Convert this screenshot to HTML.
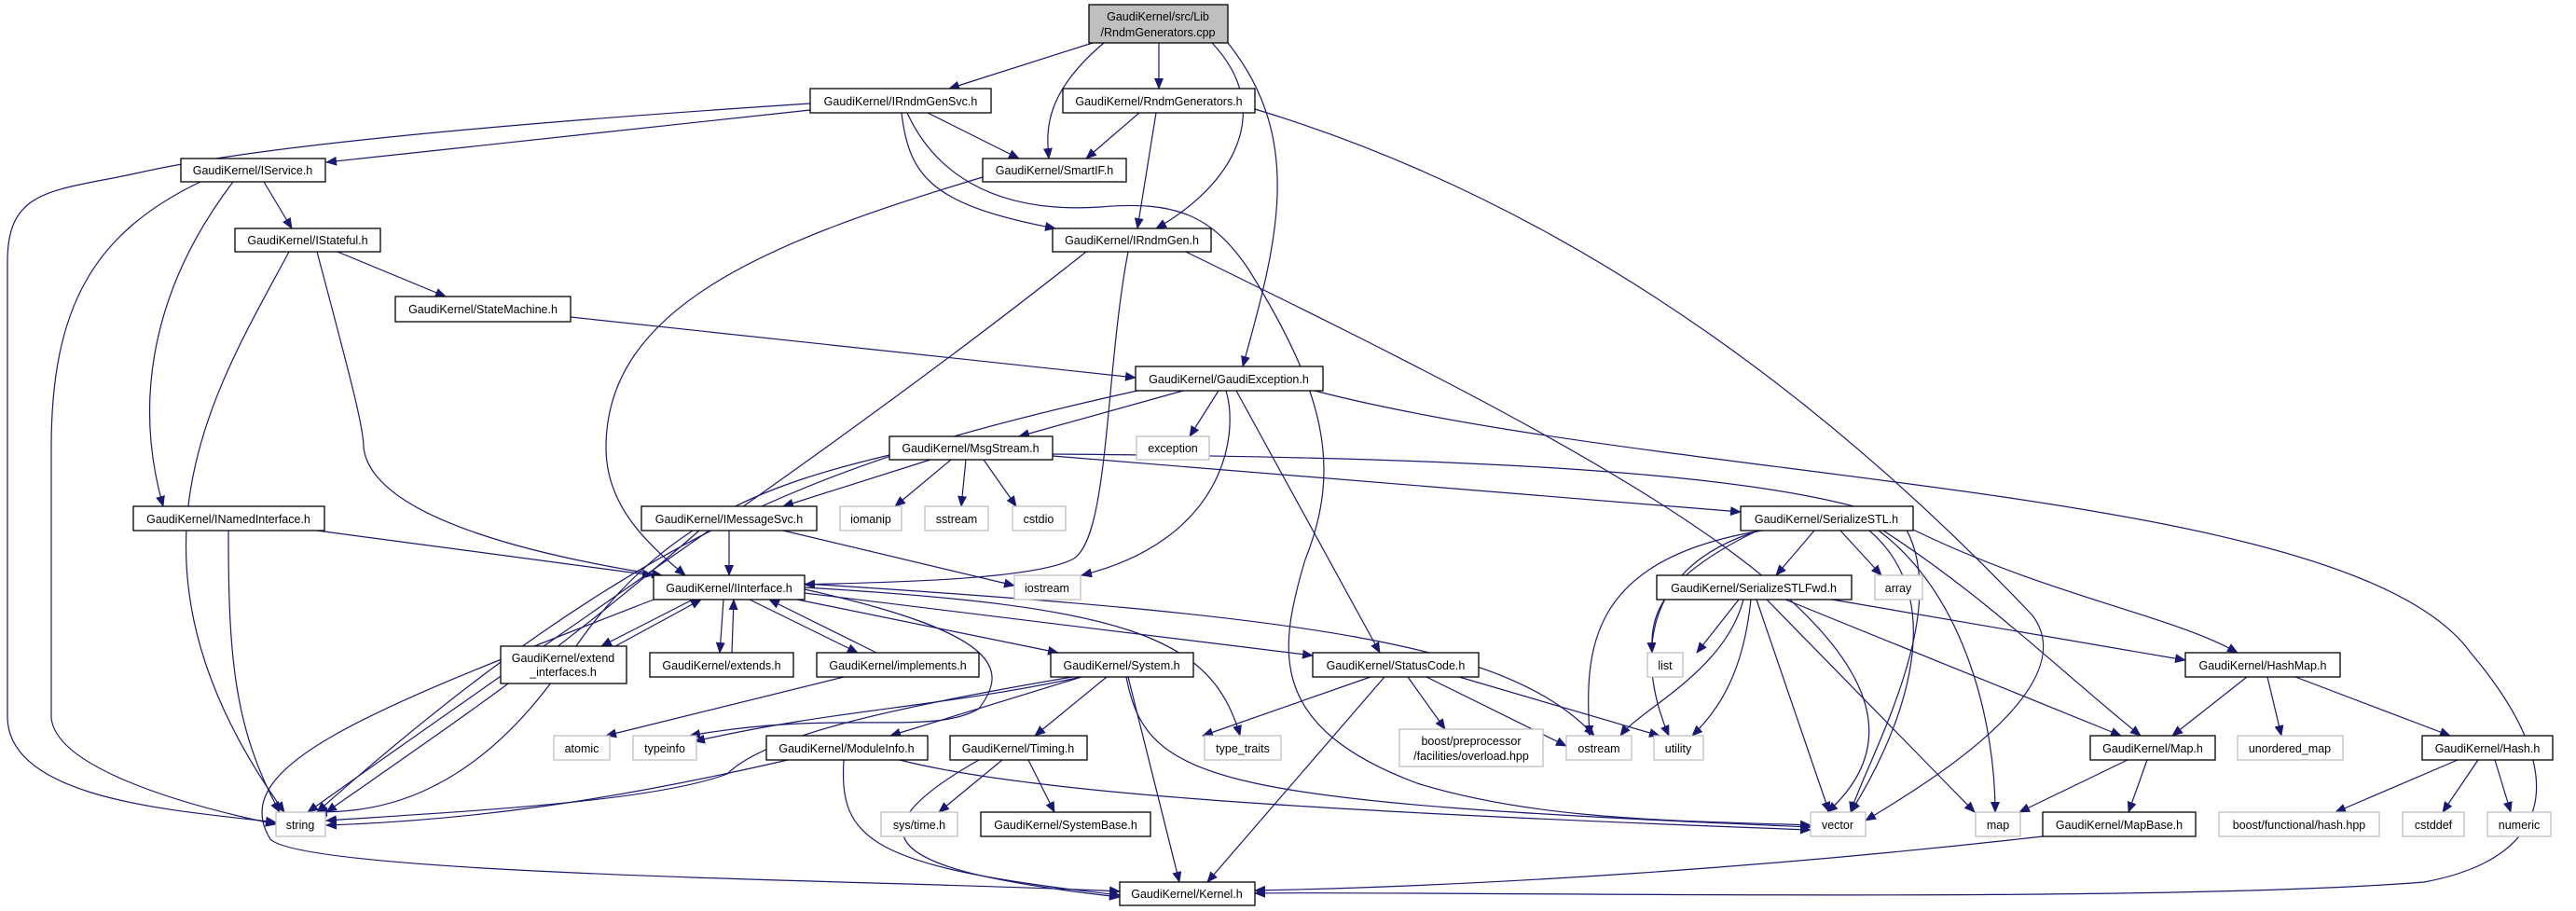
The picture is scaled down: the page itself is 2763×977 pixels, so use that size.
<!DOCTYPE html>
<html><head><meta charset="utf-8"><style>
html,body{margin:0;padding:0;background:#fff;}
svg{display:block}
text{font-family:"Liberation Sans",sans-serif;font-size:12.5px;fill:#000;text-anchor:middle}
.n{fill:#fff;stroke:#000;stroke-width:1.3}
.g{fill:#fff;stroke:#bfbfbf;stroke-width:1.3}
.r{fill:#bfbfbf;stroke:#000;stroke-width:1.3}
path.e{fill:none;stroke:#191970;stroke-width:1.2;marker-end:url(#a)}
</style></head><body>
<svg width="2763" height="977" viewBox="0 0 2763 977" xmlns="http://www.w3.org/2000/svg">
<defs><marker id="a" markerUnits="userSpaceOnUse" markerWidth="12" markerHeight="10" refX="11" refY="5" orient="auto"><path d="M0,0 L12,5 L0,10 z" fill="#191970"/></marker></defs>
<g>
<path class="e" d="M1172,46 L1018,95"/>
<path class="e" d="M1243,46 L1243,95"/>
<path class="e" d="M1184,46 C1120,100 1122,140 1125,170"/>
<path class="e" d="M1300,46 C1370,120 1320,200 1240,245"/>
<path class="e" d="M1317,46 C1400,150 1370,260 1333,393"/>
<path class="e" d="M869,111 C500,135 260,160 150,185 C60,205 8,200 8,280 L8,770 C10,860 200,870 296,882"/>
<path class="e" d="M869,118 L350,174"/>
<path class="e" d="M995,121 L1093,170"/>
<path class="e" d="M967,121 C975,190 1000,220 1132,245"/>
<path class="e" d="M973,121 C1000,180 1060,230 1180,222 C1260,215 1300,230 1340,290 C1420,420 1440,500 1400,600 C1370,700 1360,780 1520,840 C1650,880 1800,880 1942,885"/>
<path class="e" d="M1222,121 L1165,170"/>
<path class="e" d="M1240,121 L1220,245"/>
<path class="e" d="M1346,117 C1720,230 2000,470 2180,660 C2240,740 2050,850 2001,880"/>
<path class="e" d="M215,195 C100,250 55,330 55,480 L55,770 C60,820 180,860 296,884"/>
<path class="e" d="M250,195 C170,300 140,420 175,543"/>
<path class="e" d="M283,195 L313,245"/>
<path class="e" d="M310,270 C230,420 110,600 305,871"/>
<path class="e" d="M340,270 C380,420 390,460 390,480 C400,560 600,600 710,617"/>
<path class="e" d="M362,270 L478,318"/>
<path class="e" d="M612,340 L1218,405"/>
<path class="e" d="M1054,190 C820,260 650,330 650,480 C650,540 690,580 735,617"/>
<path class="e" d="M1165,270 C900,480 640,650 330,871"/>
<path class="e" d="M1210,270 C1185,400 1190,580 1150,600 C1100,625 900,625 863,627"/>
<path class="e" d="M1272,270 C1700,480 2150,700 1960,871"/>
<path class="e" d="M1220,419 C900,490 690,560 340,871"/>
<path class="e" d="M1269,419 L1093,468"/>
<path class="e" d="M1307,419 L1276,468"/>
<path class="e" d="M1315,419 C1330,470 1310,580 1160,617"/>
<path class="e" d="M1326,419 L1480,700"/>
<path class="e" d="M1410,419 C1800,520 2520,520 2650,700 C2760,830 2740,920 2600,946 C2300,970 1500,955 1346,958"/>
<path class="e" d="M954,488 C820,520 700,560 600,720 C500,860 400,871 340,871"/>
<path class="e" d="M998,493 L840,543"/>
<path class="e" d="M1020,493 L960,543"/>
<path class="e" d="M1036,493 L1031,543"/>
<path class="e" d="M1055,493 L1090,543"/>
<path class="e" d="M1129,489 L1867,549"/>
<path class="e" d="M1129,487 C1500,490 1900,500 2040,560 C2100,650 2000,820 1985,871"/>
<path class="e" d="M750,569 C600,700 480,780 350,871"/>
<path class="e" d="M782,569 L782,617"/>
<path class="e" d="M840,569 L1088,628"/>
<path class="e" d="M245,569 C245,700 250,780 300,871"/>
<path class="e" d="M340,569 L700,617"/>
<path class="e" d="M701,643 C400,760 240,820 290,900 C330,940 1000,945 1201,956"/>
<path class="e" d="M743,643 L645,693"/>
<path class="e" d="M660,693 L752,643"/>
<path class="e" d="M776,643 L772,700"/>
<path class="e" d="M785,700 L787,643"/>
<path class="e" d="M804,643 L920,700"/>
<path class="e" d="M940,700 L825,643"/>
<path class="e" d="M855,643 L1135,700"/>
<path class="e" d="M863,632 C1080,680 1080,720 1050,760 C1000,790 900,760 740,789"/>
<path class="e" d="M863,636 L1408,703"/>
<path class="e" d="M863,630 C1200,650 1300,680 1330,789"/>
<path class="e" d="M863,626 C1400,660 1620,690 1710,789"/>
<path class="e" d="M905,726 L650,789"/>
<path class="e" d="M1160,726 C1000,760 900,760 745,795"/>
<path class="e" d="M1150,726 C950,760 820,790 780,830 C700,860 500,870 350,880"/>
<path class="e" d="M1160,726 L955,789"/>
<path class="e" d="M1187,726 L1110,789"/>
<path class="e" d="M1210,726 L1265,946"/>
<path class="e" d="M1208,726 C1230,840 1300,860 1942,887"/>
<path class="e" d="M845,815 C650,860 500,880 350,885"/>
<path class="e" d="M905,815 C900,900 930,930 1201,960"/>
<path class="e" d="M965,815 C1100,850 1400,870 1942,890"/>
<path class="e" d="M1050,815 C900,900 960,935 1201,962"/>
<path class="e" d="M1075,815 L1007,871"/>
<path class="e" d="M1103,815 L1131,871"/>
<path class="e" d="M1470,726 L1290,789"/>
<path class="e" d="M1510,726 L1550,782"/>
<path class="e" d="M1530,726 L1680,800"/>
<path class="e" d="M1565,726 L1780,789"/>
<path class="e" d="M1485,726 L1295,946"/>
<path class="e" d="M1946,569 L1905,617"/>
<path class="e" d="M1974,569 L2018,617"/>
<path class="e" d="M1890,569 C1700,600 1700,700 1705,789"/>
<path class="e" d="M1887,569 C1750,610 1760,720 1790,789"/>
<path class="e" d="M1885,569 C1780,620 1770,660 1772,700"/>
<path class="e" d="M2005,569 C2100,650 2030,800 1985,871"/>
<path class="e" d="M2015,569 C2110,640 2140,780 2140,871"/>
<path class="e" d="M2020,569 C2130,640 2210,720 2296,789"/>
<path class="e" d="M2052,568 C2200,640 2330,660 2400,700"/>
<path class="e" d="M1865,643 L1820,700"/>
<path class="e" d="M1870,643 C1850,720 1760,760 1738,789"/>
<path class="e" d="M1878,643 C1870,720 1845,760 1815,789"/>
<path class="e" d="M1884,643 L1962,871"/>
<path class="e" d="M1895,643 L2118,871"/>
<path class="e" d="M1915,643 L2275,789"/>
<path class="e" d="M1965,643 L2344,708"/>
<path class="e" d="M2410,726 L2330,789"/>
<path class="e" d="M2432,726 L2447,789"/>
<path class="e" d="M2462,726 L2628,789"/>
<path class="e" d="M2282,815 L2166,871"/>
<path class="e" d="M2303,815 L2283,871"/>
<path class="e" d="M2191,897 C1900,930 1600,950 1346,955"/>
<path class="e" d="M2636,815 L2505,871"/>
<path class="e" d="M2658,815 L2620,871"/>
<path class="e" d="M2676,815 L2693,871"/>
</g>
<g>
<rect class="r" x="1168" y="5" width="149" height="41"/><text x="1242" y="22">GaudiKernel/src/Lib</text><text x="1242" y="39">/RndmGenerators.cpp</text>
<rect class="n" x="869" y="95" width="194" height="26"/><text x="966" y="113">GaudiKernel/IRndmGenSvc.h</text>
<rect class="n" x="1140" y="95" width="206" height="26"/><text x="1243" y="113">GaudiKernel/RndmGenerators.h</text>
<rect class="n" x="194" y="170" width="155" height="25"/><text x="271" y="187">GaudiKernel/IService.h</text>
<rect class="n" x="1054" y="170" width="154" height="25"/><text x="1131" y="187">GaudiKernel/SmartIF.h</text>
<rect class="n" x="252" y="245" width="156" height="25"/><text x="330" y="262">GaudiKernel/IStateful.h</text>
<rect class="n" x="1129" y="245" width="170" height="25"/><text x="1214" y="262">GaudiKernel/IRndmGen.h</text>
<rect class="n" x="424" y="318" width="188" height="27"/><text x="518" y="336">GaudiKernel/StateMachine.h</text>
<rect class="n" x="1218" y="393" width="201" height="26"/><text x="1318" y="411">GaudiKernel/GaudiException.h</text>
<rect class="n" x="954" y="468" width="175" height="25"/><text x="1041" y="485">GaudiKernel/MsgStream.h</text>
<rect class="g" x="1219" y="468" width="78" height="25"/><text x="1258" y="485">exception</text>
<rect class="n" x="143" y="543" width="205" height="26"/><text x="245" y="561">GaudiKernel/INamedInterface.h</text>
<rect class="n" x="688" y="543" width="188" height="26"/><text x="782" y="561">GaudiKernel/IMessageSvc.h</text>
<rect class="g" x="901" y="543" width="66" height="26"/><text x="934" y="561">iomanip</text>
<rect class="g" x="992" y="543" width="68" height="26"/><text x="1026" y="561">sstream</text>
<rect class="g" x="1086" y="543" width="57" height="26"/><text x="1114" y="561">cstdio</text>
<rect class="n" x="1867" y="543" width="185" height="26"/><text x="1959" y="561">GaudiKernel/SerializeSTL.h</text>
<rect class="n" x="701" y="617" width="162" height="26"/><text x="782" y="635">GaudiKernel/IInterface.h</text>
<rect class="g" x="1088" y="617" width="71" height="26"/><text x="1123" y="635">iostream</text>
<rect class="n" x="1777" y="617" width="209" height="26"/><text x="1881" y="635">GaudiKernel/SerializeSTLFwd.h</text>
<rect class="g" x="2011" y="617" width="51" height="26"/><text x="2036" y="635">array</text>
<rect class="n" x="537" y="693" width="135" height="40"/><text x="604" y="710">GaudiKernel/extend</text><text x="604" y="725">_interfaces.h</text>
<rect class="n" x="697" y="700" width="154" height="26"/><text x="774" y="718">GaudiKernel/extends.h</text>
<rect class="n" x="876" y="700" width="174" height="26"/><text x="963" y="718">GaudiKernel/implements.h</text>
<rect class="n" x="1127" y="700" width="153" height="26"/><text x="1203" y="718">GaudiKernel/System.h</text>
<rect class="n" x="1408" y="700" width="178" height="26"/><text x="1497" y="718">GaudiKernel/StatusCode.h</text>
<rect class="g" x="1767" y="700" width="38" height="26"/><text x="1786" y="718">list</text>
<rect class="n" x="2344" y="700" width="166" height="26"/><text x="2427" y="718">GaudiKernel/HashMap.h</text>
<rect class="g" x="594" y="789" width="60" height="26"/><text x="624" y="807">atomic</text>
<rect class="g" x="679" y="789" width="68" height="26"/><text x="713" y="807">typeinfo</text>
<rect class="n" x="822" y="789" width="173" height="26"/><text x="908" y="807">GaudiKernel/ModuleInfo.h</text>
<rect class="n" x="1019" y="789" width="147" height="26"/><text x="1092" y="807">GaudiKernel/Timing.h</text>
<rect class="g" x="1292" y="789" width="82" height="26"/><text x="1333" y="807">type_traits</text>
<rect class="g" x="1501" y="782" width="154" height="40"/><text x="1578" y="799">boost/preprocessor</text><text x="1578" y="815">/facilities/overload.hpp</text>
<rect class="g" x="1680" y="789" width="70" height="26"/><text x="1715" y="807">ostream</text>
<rect class="g" x="1774" y="789" width="53" height="26"/><text x="1800" y="807">utility</text>
<rect class="n" x="2242" y="789" width="134" height="26"/><text x="2309" y="807">GaudiKernel/Map.h</text>
<rect class="g" x="2400" y="789" width="113" height="26"/><text x="2456" y="807">unordered_map</text>
<rect class="n" x="2598" y="789" width="140" height="26"/><text x="2668" y="807">GaudiKernel/Hash.h</text>
<rect class="g" x="296" y="871" width="53" height="26"/><text x="322" y="889">string</text>
<rect class="g" x="945" y="871" width="82" height="26"/><text x="986" y="889">sys/time.h</text>
<rect class="n" x="1052" y="871" width="182" height="26"/><text x="1143" y="889">GaudiKernel/SystemBase.h</text>
<rect class="g" x="1942" y="871" width="59" height="26"/><text x="1971" y="889">vector</text>
<rect class="g" x="2119" y="871" width="48" height="26"/><text x="2143" y="889">map</text>
<rect class="n" x="2191" y="871" width="164" height="26"/><text x="2273" y="889">GaudiKernel/MapBase.h</text>
<rect class="g" x="2380" y="871" width="172" height="26"/><text x="2466" y="889">boost/functional/hash.hpp</text>
<rect class="g" x="2577" y="871" width="66" height="26"/><text x="2610" y="889">cstddef</text>
<rect class="g" x="2668" y="871" width="68" height="26"/><text x="2702" y="889">numeric</text>
<rect class="n" x="1201" y="946" width="145" height="25"/><text x="1273" y="963">GaudiKernel/Kernel.h</text>
</g>
</svg>
</body></html>
